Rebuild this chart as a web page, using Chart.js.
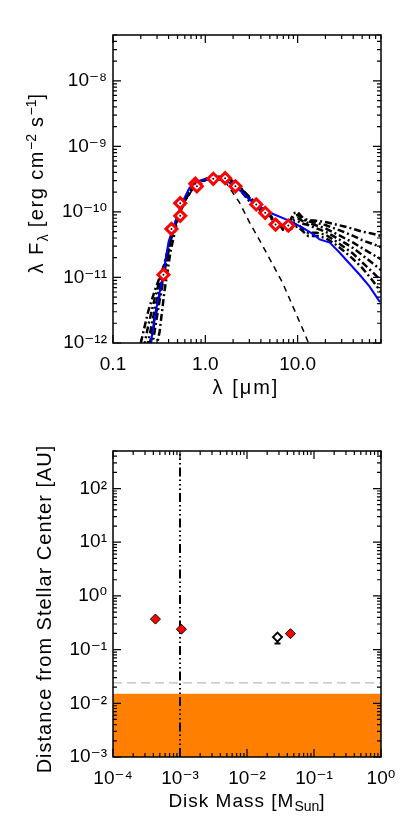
<!DOCTYPE html>
<html lang="en">
<head>
    <meta charset="UTF-8">
    <title>SED fit and disk mass</title>
    <script src="https://cdn.jsdelivr.net/npm/chart.js"></script>
    <style>
        html, body { margin: 0; padding: 0; background: #fff; }
        body { width: 415px; height: 830px; position: relative; overflow: hidden;
               font-family: "Liberation Sans", "DejaVu Sans", sans-serif; color: #000; }
        .panel { position: absolute; left: 0; width: 415px; height: 415px; }
        .title { position: absolute; white-space: nowrap; font-size: 20px; letter-spacing: 1px;
                 transform: translate(-50%, -50%); }
        .title.rot { transform: translate(-50%, -50%) rotate(-90deg); }
        .title sub, .title sup { font-size: 14px; letter-spacing: 0; }
    </style>
</head>
<body>
    <div class="panel" style="top:0"><canvas id="sedChart" width="415" height="415"></canvas></div>
    <div class="panel" style="top:415px"><canvas id="diskChart" width="415" height="415"></canvas></div>

    <div class="title rot" style="left:37px; top:183px; letter-spacing:1.5px">λ F<sub>λ</sub> [erg cm<sup>−2</sup> s<sup>−1</sup>]</div>
    <div class="title" style="left:246px; top:387px; letter-spacing:2px">λ [μm]</div>
    <div class="title rot" style="left:44px; top:609px">Distance from Stellar Center [AU]</div>
    <div class="title" style="left:247px; top:802px; font-size:19px">Disk Mass [M<sub>Sun</sub>]</div>

    <script>
        // ---- top panel: SED ----
        const sedXTicks = [0.1, 1, 10];
        const sedXLabels = ['0.1', '1.0', '10.0'];
        const sedYTicks = [1e-12, 1e-11, 1e-10, 1e-9, 1e-8];
        const sedYLabels = ['10⁻¹²', '10⁻¹¹', '10⁻¹⁰', '10⁻⁹', '10⁻⁸'];

        // observed photometry (red diamonds)
        const obsWave = [0.352, 0.43, 0.535, 0.535, 0.78, 0.81, 1.22, 1.64, 2.12, 3.56, 4.45, 5.77, 7.93];
        const obsFlux = [1.1e-11, 5.5e-11, 8.7e-11, 1.36e-10, 2.7e-10, 2.46e-10, 3.2e-10, 3.27e-10, 2.46e-10, 1.3e-10, 9.7e-11, 6.4e-11, 6.2e-11];

        // best fit model (blue)
        const fitWave = [0.25, 0.3, 0.35, 0.4, 0.45, 0.5, 0.55, 0.67, 0.86, 1.2, 1.67, 2.16, 3.27, 4.96, 8.2, 11.4, 15, 17.3, 22.3, 28.4, 36, 47, 60, 78];
        const fitFlux = [8e-13, 3.8e-12, 1.1e-11, 3.5e-11, 5.8e-11, 9e-11, 1.3e-10, 2.3e-10, 3.0e-10, 3.2e-10, 3.0e-10, 2.4e-10, 1.4e-10, 9.8e-11, 7.3e-11, 5.7e-11, 4.5e-11, 3.8e-11, 3.4e-11, 2.4e-11, 1.66e-11, 1.1e-11, 7.3e-12, 4.2e-12];

        // stellar photosphere (dashed)
        const photWave = [0.22, 0.26, 0.3, 0.35, 0.4, 0.5, 0.6, 0.8, 1.0, 1.3, 1.7, 2.34, 3.0, 4.2, 6.9, 11.9, 16];
        const photFlux = [3e-13, 1.5e-12, 4e-12, 1.1e-11, 3e-11, 8.5e-11, 1.5e-10, 2.6e-10, 3.1e-10, 3.3e-10, 2.7e-10, 1.4e-10, 7e-11, 3.0e-11, 8.2e-12, 1.4e-12, 5e-13];

        // other good fits (dash-dot)
        const modelWave = [0.2, 0.24, 0.28, 0.32, 0.36, 0.42, 0.5, 0.6, 0.75, 0.9, 1.1, 1.4, 1.8, 2.3, 3.0, 3.8, 4.8, 6, 7, 8, 9, 10, 11.5, 13, 16, 20, 25, 32, 40, 50, 63, 80];
        const model1 = [1e-12, 3e-12, 6e-12, 1e-11, 1.6e-11, 4e-11, 8e-11, 1.5e-10, 2.5e-10, 3.0e-10, 3.3e-10, 3.5e-10, 3.3e-10, 2.5e-10, 1.7e-10, 1.25e-10, 9.5e-11, 7e-11, 6e-11, 6.5e-11, 9.5e-11, 1.0e-10, 8e-11, 7.5e-11, 7.3e-11, 7e-11, 6.5e-11, 6e-11, 5.5e-11, 5e-11, 4.7e-11, 4.3e-11];
        const model2 = [5e-13, 1.8e-12, 4.5e-12, 9e-12, 1.5e-11, 4e-11, 8.5e-11, 1.5e-10, 2.45e-10, 2.95e-10, 3.25e-10, 3.45e-10, 3.25e-10, 2.45e-10, 1.65e-10, 1.2e-10, 9.5e-11, 6.8e-11, 5.8e-11, 6.2e-11, 8.5e-11, 9e-11, 7.6e-11, 7.2e-11, 6.8e-11, 6.3e-11, 5.6e-11, 4.9e-11, 4.3e-11, 3.7e-11, 3.3e-11, 2.9e-11];
        const model3 = [3e-13, 1e-12, 3e-12, 7e-12, 1.3e-11, 3.8e-11, 8.5e-11, 1.6e-10, 2.5e-10, 3.0e-10, 3.3e-10, 3.4e-10, 3.2e-10, 2.5e-10, 1.6e-10, 1.15e-10, 9.3e-11, 6.6e-11, 5.6e-11, 5.8e-11, 7.5e-11, 8e-11, 7.2e-11, 6.8e-11, 6.2e-11, 5.6e-11, 4.8e-11, 4.0e-11, 3.4e-11, 2.8e-11, 2.3e-11, 1.9e-11];
        const model4 = [2e-13, 6e-13, 2e-12, 5.5e-12, 1.2e-11, 3.6e-11, 8e-11, 1.55e-10, 2.45e-10, 2.95e-10, 3.25e-10, 3.4e-10, 3.2e-10, 2.4e-10, 1.55e-10, 1.12e-10, 9.2e-11, 6.5e-11, 5.5e-11, 5.6e-11, 6.8e-11, 7.2e-11, 6.6e-11, 6.3e-11, 5.6e-11, 5.0e-11, 4.2e-11, 3.4e-11, 2.8e-11, 2.2e-11, 1.7e-11, 1.3e-11];
        const model5 = [1e-13, 4e-13, 1.4e-12, 4.5e-12, 1.1e-11, 3.5e-11, 8e-11, 1.5e-10, 2.4e-10, 2.9e-10, 3.2e-10, 3.35e-10, 3.15e-10, 2.35e-10, 1.5e-10, 1.1e-10, 9e-11, 6.4e-11, 5.4e-11, 5.3e-11, 6.2e-11, 6.5e-11, 5.5e-11, 4.8e-11, 4.8e-11, 4.5e-11, 3.7e-11, 2.9e-11, 2.3e-11, 1.7e-11, 1.25e-11, 9e-12];
        const model6 = [1e-13, 3e-13, 6e-13, 1.5e-12, 6e-12, 2.5e-11, 7.5e-11, 1.5e-10, 2.4e-10, 2.9e-10, 3.2e-10, 3.35e-10, 3.1e-10, 2.3e-10, 1.45e-10, 1.08e-10, 9e-11, 6.3e-11, 5.3e-11, 5.2e-11, 5.8e-11, 6e-11, 5e-11, 4.3e-11, 4.3e-11, 4e-11, 3.3e-11, 2.5e-11, 1.9e-11, 1.4e-11, 9.5e-12, 6e-12];
        const models = [model1, model2, model3, model4, model5, model6];

        // ---- bottom panel: disk mass vs distance ----
        const diskXTicks = [1e-4, 1e-3, 1e-2, 1e-1, 1];
        const diskXLabels = ['10⁻⁴', '10⁻³', '10⁻²', '10⁻¹', '10⁰'];
        const diskYTicks = [1e-3, 1e-2, 1e-1, 1, 10, 100];
        const diskYLabels = ['10⁻³', '10⁻²', '10⁻¹', '10⁰', '10¹', '10²'];

        const fitMass = [4.3e-4, 1.05e-3, 0.0445];
        const fitRadius = [0.37, 0.24, 0.198];
        const bestMass = [0.0285];
        const bestRadius = [0.171];
        const bestRadiusLow = [0.13];

        const sublimationRadius = 0.015;   // orange zone top
        const stellarRadiusLine = 0.024;   // grey dashed
        const massLimit = 1e-3;            // vertical dash-dot

        const pts = (xs, ys) => xs.map((x, i) => ({ x: x, y: ys[i] }));

        Chart.defaults.font.family = '"Liberation Sans", "DejaVu Sans", sans-serif';
        Chart.defaults.font.size = 19;
        Chart.defaults.color = '#000';

        // box around the plot with IDL-style inward ticks on all sides
        const frameTicks = {
            id: 'frameTicks',
            afterDatasetsDraw(chart) {
                const { ctx, chartArea: a } = chart;
                const xs = chart.scales.x, ys = chart.scales.y;
                ctx.save();
                ctx.strokeStyle = '#000';
                ctx.lineWidth = 1.5;
                ctx.strokeRect(a.left, a.top, a.right - a.left, a.bottom - a.top);
                ctx.lineWidth = 1.2;
                ctx.beginPath();
                for (let e = Math.floor(Math.log10(xs.min)); e <= Math.ceil(Math.log10(xs.max)); e++) {
                    for (let k = 1; k <= 9; k++) {
                        const v = k * Math.pow(10, e);
                        if (v < xs.min * 0.999 || v > xs.max * 1.001) continue;
                        const px = xs.getPixelForValue(v);
                        const len = k === 1 ? 8 : 4;
                        ctx.moveTo(px, a.bottom); ctx.lineTo(px, a.bottom - len);
                        ctx.moveTo(px, a.top); ctx.lineTo(px, a.top + len);
                    }
                }
                for (let e = Math.floor(Math.log10(ys.min)); e <= Math.ceil(Math.log10(ys.max)); e++) {
                    for (let k = 1; k <= 9; k++) {
                        const v = k * Math.pow(10, e);
                        if (v < ys.min * 0.999 || v > ys.max * 1.001) continue;
                        const py = ys.getPixelForValue(v);
                        const len = k === 1 ? 8 : 4;
                        ctx.moveTo(a.left, py); ctx.lineTo(a.left + len, py);
                        ctx.moveTo(a.right, py); ctx.lineTo(a.right - len, py);
                    }
                }
                ctx.stroke();
                ctx.restore();
            }
        };

        // lower error bar for the best-fit point
        const errorBars = {
            id: 'errorBars',
            afterDatasetsDraw(chart) {
                const ctx = chart.ctx;
                chart.data.datasets.forEach((ds, i) => {
                    if (!ds.errLow) return;
                    chart.getDatasetMeta(i).data.forEach((p, j) => {
                        const yl = chart.scales.y.getPixelForValue(ds.errLow[j]);
                        ctx.save();
                        ctx.strokeStyle = '#000';
                        ctx.lineWidth = 2;
                        ctx.beginPath();
                        ctx.moveTo(p.x, p.y + 4);
                        ctx.lineTo(p.x, yl);
                        ctx.moveTo(p.x - 3, yl);
                        ctx.lineTo(p.x + 3, yl);
                        ctx.stroke();
                        ctx.restore();
                    });
                });
            }
        };

        function logAxis(min, max, tickVals, tickLabels, pos, fitSize, pad) {
            return {
                type: 'logarithmic',
                position: pos,
                min: min,
                max: max,
                grid: { display: false, drawTicks: false },
                border: { display: false },
                ticks: {
                    autoSkip: false,
                    maxRotation: 0,
                    padding: pad,
                    callback: (v) => tickLabels[tickVals.findIndex(t => Math.abs(t - v) / t < 1e-6)]
                },
                afterBuildTicks: (s) => { s.ticks = tickVals.map(v => ({ value: v })); },
                afterFit: (s) => { if (pos === 'left') s.width = fitSize; else s.height = fitSize; }
            };
        }

        const line = (data, color, width, dash, order) => ({
            data: data, showLine: true, borderColor: color, borderWidth: width,
            borderDash: dash, pointRadius: 0, fill: false, tension: 0, order: order
        });

        const sedDatasets = [
            {
                data: pts(obsWave, obsFlux), showLine: false, pointStyle: 'circle',
                pointRadius: 1, backgroundColor: '#000', borderColor: '#000', borderWidth: 0, order: 0
            },
            {
                data: pts(obsWave, obsFlux), showLine: false, pointStyle: 'rectRot',
                pointRadius: 5.5, backgroundColor: '#fff', borderColor: '#ff0000', borderWidth: 3, order: 1
            },
            line(pts(fitWave, fitFlux), '#0000ff', 2, [], 2),
            line(pts(photWave, photFlux), '#000', 1.5, [6, 5], 3)
        ];
        models.forEach(m => sedDatasets.push(line(pts(modelWave, m), '#000', 2.5, [7, 3, 2, 3], 4)));

        new Chart(document.getElementById('sedChart'), {
            type: 'scatter',
            data: { datasets: sedDatasets },
            options: {
                responsive: false,
                animation: false,
                events: [],
                layout: { padding: { left: 53, right: 34, top: 35, bottom: 32 } },
                plugins: { legend: { display: false }, tooltip: { enabled: false } },
                scales: {
                    x: logAxis(0.1, 80, sedXTicks, sedXLabels, 'bottom', 40, 10),
                    y: logAxis(1e-12, 5e-8, sedYTicks, sedYLabels, 'left', 60, 6)
                }
            },
            plugins: [frameTicks]
        });

        new Chart(document.getElementById('diskChart'), {
            type: 'scatter',
            data: {
                datasets: [
                    {
                        data: pts(fitMass, fitRadius), showLine: false, pointStyle: 'rectRot',
                        pointRadius: 5, backgroundColor: '#ff0000', borderColor: '#000', borderWidth: 1, order: 0
                    },
                    {
                        data: pts(bestMass, bestRadius), errLow: bestRadiusLow, showLine: false, pointStyle: 'rectRot',
                        pointRadius: 4.5, backgroundColor: '#fff', borderColor: '#000', borderWidth: 2, order: 1
                    },
                    line([{ x: massLimit, y: 1e-3 }, { x: massLimit, y: 500 }], '#000', 2, [9, 3, 1.5, 3, 1.5, 3, 1.5, 3], 2),
                    line([{ x: 1e-4, y: stellarRadiusLine }, { x: 1, y: stellarRadiusLine }], '#aaaaaa', 1, [9, 5], 3),
                    {
                        data: [{ x: 1e-4, y: sublimationRadius }, { x: 1, y: sublimationRadius }],
                        showLine: true, borderWidth: 0, pointRadius: 0, fill: 'start',
                        backgroundColor: '#ff8000', order: 4
                    }
                ]
            },
            options: {
                responsive: false,
                animation: false,
                events: [],
                layout: { padding: { left: 53, right: 34, top: 36, bottom: 33 } },
                plugins: { legend: { display: false }, tooltip: { enabled: false } },
                scales: {
                    x: logAxis(1e-4, 1, diskXTicks, diskXLabels, 'bottom', 40, 10),
                    y: logAxis(1e-3, 500, diskYTicks, diskYLabels, 'left', 60, 6)
                }
            },
            plugins: [frameTicks, errorBars]
        });
    </script>
</body>
</html>
